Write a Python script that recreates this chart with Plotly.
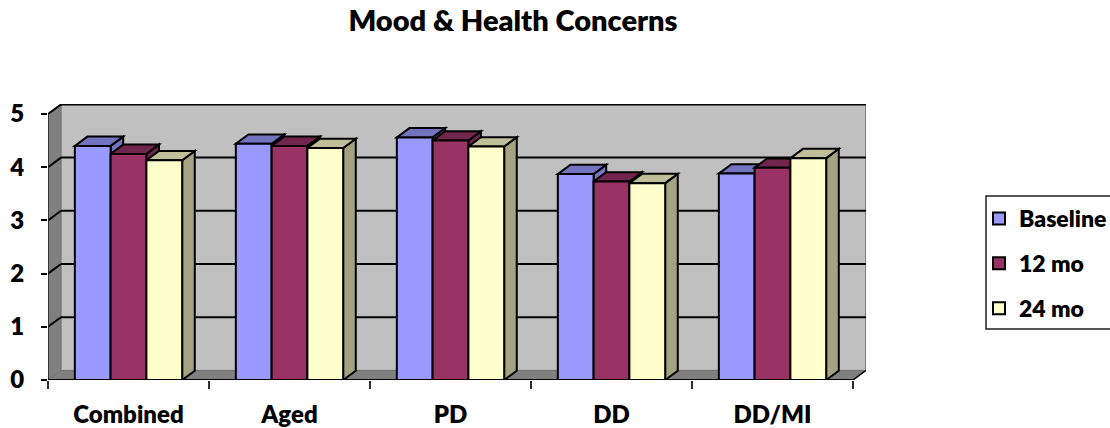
import plotly.graph_objects as go

categories = ["Combined", "Aged", "PD", "DD", "DD/MI"]
baseline = [4.40, 4.44, 4.56, 3.87, 3.88]
mo12 = [4.25, 4.40, 4.50, 3.73, 3.99]
mo24 = [4.13, 4.36, 4.39, 3.70, 4.17]
series_names = ["Baseline", "12 mo", "24 mo"]
front_colors = ["#9999FF", "#993366", "#FFFFCC"]
shade_colors = ["#7373BF", "#73264D", "#BFBF99"]
side_colors = ["#7373BF", "#73264D", "#A3A382"]
y_ticks = [0, 1, 2, 3, 4, 5]

FONT = "Lato, 'Open Sans', sans-serif"
WEIGHT = 800
W, H = 1110, 428
PX_L, PX_R, PX_T, PX_B = 48, 866, 104, 380
UX, UY = 161.0, 53.2           # pixels per category / per value unit
DX, DY = 13 / UX, 9.6 / UY     # depth of the 3-D box in data units
BDX, BDY = 12.6 / UX, 9.3 / UY # depth of the bars
BARGAP = 54 / 162
XMIN, XMAX = -0.5, -0.5 + (PX_R - PX_L) / UX
YMAX = (PX_B - PX_T) / UY
XEND = 4.5


def poly(pts, fill, line="black", width=2, layer="below"):
    d = "M" + "L".join(f"{x},{y}" for x, y in pts) + "Z"
    return dict(type="path", path=d, xref="x", yref="y", fillcolor=fill,
                line=dict(color=line, width=width), layer=layer)


def seg(x0, y0, x1, y1, color="black", width=2):
    return dict(type="line", x0=x0, y0=y0, x1=x1, y1=y1, xref="x", yref="y",
                line=dict(color=color, width=width), layer="below")


shapes = []
# walls
shapes.append(poly([(XMIN + DX, DY), (XEND + DX, DY), (XEND + DX, 5 + DY), (XMIN + DX, 5 + DY)],
                   "#C0C0C0", "#A0A0A0", 1))
shapes.append(poly([(XMIN, 0), (XMIN + DX, DY), (XMIN + DX, 5 + DY), (XMIN, 5)],
                   "#808080", "#707070", 1))
shapes.append(poly([(XMIN, 0), (XEND, 0), (XEND + DX, DY), (XMIN + DX, DY)],
                   "#808080", "#707070", 1))
shapes.append(seg(XEND + DX, DY, XEND + DX, 5 + DY, "#808080", 2))
shapes.append(seg(XEND, 0, XEND + DX, DY, "black", 1.5))
# gridlines on the box
for v in y_ticks[1:]:
    shapes.append(seg(XMIN, v, XMIN + DX, v + DY))
    shapes.append(seg(XMIN + DX, v + DY, XEND + DX, v + DY))
# axis lines
shapes.append(seg(XMIN, 0, XMIN, 5, "#202020", 1.5))
shapes.append(seg(XMIN, 0, XEND, 0, "black", 2))

# top and side faces of each bar, computed from the values
all_series = [baseline, mo12, mo24]
bw = (1 - BARGAP) / 3
for c in range(len(categories)):
    for s, vals in enumerate(all_series):
        v = vals[c]
        x0 = c - 1.5 * bw + s * bw
        x1 = x0 + bw
        shapes.append(poly([(x1, 0), (x1 + BDX, BDY), (x1 + BDX, v + BDY), (x1, v)], side_colors[s]))
        shapes.append(poly([(x0, v), (x1, v), (x1 + BDX, v + BDY), (x0 + BDX, v + BDY)], shade_colors[s]))

# legend frame
shapes.append(dict(type="rect", xref="paper", yref="paper",
                   x0=(986 - PX_L) / (PX_R - PX_L), x1=(1114 - PX_L) / (PX_R - PX_L),
                   y0=(PX_B - 329) / (PX_B - PX_T), y1=(PX_B - 196) / (PX_B - PX_T),
                   line=dict(color="#202020", width=1.5), layer="below"))

fig = go.Figure()
for s, vals in enumerate(all_series):
    fig.add_bar(x=list(range(len(categories))), y=vals, name=series_names[s],
                marker=dict(color=front_colors[s], line=dict(color="black", width=2)),
                legendgroup=series_names[s])

fig.update_layout(
    width=W, height=H, autosize=False, barmode="group", bargap=BARGAP, bargroupgap=0,
    paper_bgcolor="white", plot_bgcolor="white",
    margin=dict(l=PX_L, r=W - PX_R, t=PX_T, b=H - PX_B, pad=0, autoexpand=False),
    font=dict(family=FONT, color="black", size=20),
    title=dict(text="Mood &amp; Health Concerns", x=513 / W, xanchor="center",
               y=1 - 21 / H, yanchor="middle",
               font=dict(size=29, family=FONT, color="black", weight=WEIGHT)),
    shapes=shapes,
    showlegend=True,
    legend=dict(x=(979 - PX_L) / (PX_R - PX_L), xanchor="left",
                y=(PX_B - 197) / (PX_B - PX_T), yanchor="top",
                traceorder="grouped", tracegroupgap=12, bgcolor="rgba(0,0,0,0)",
                font=dict(size=23, family=FONT, color="black", weight=WEIGHT),
                itemclick=False, itemdoubleclick=False),
    xaxis=dict(range=[XMIN, XMAX], tickmode="array", tickvals=list(range(len(categories))),
               ticktext=categories, ticks="", showgrid=False, zeroline=False, showline=False,
               ticklabelstandoff=18,
               tickfont=dict(size=24, family=FONT, color="black", weight=WEIGHT),
               minor=dict(ticks="outside", ticklen=8, tickwidth=1.5, tickcolor="#303030",
                          tickvals=[i - 0.5 for i in range(len(categories) + 1)], showgrid=False)),
    yaxis=dict(range=[0, YMAX], tickmode="array", tickvals=y_ticks, ticks="outside", ticklen=6,
               tickwidth=1.5, tickcolor="black", showgrid=False, zeroline=False, showline=False,
               ticklabelstandoff=12,
               tickfont=dict(size=24, family=FONT, color="black", weight=WEIGHT)),
)
fig.write_html("out.html", config={"displayModeBar": False},
               post_script="document.body.style.margin='0';")
